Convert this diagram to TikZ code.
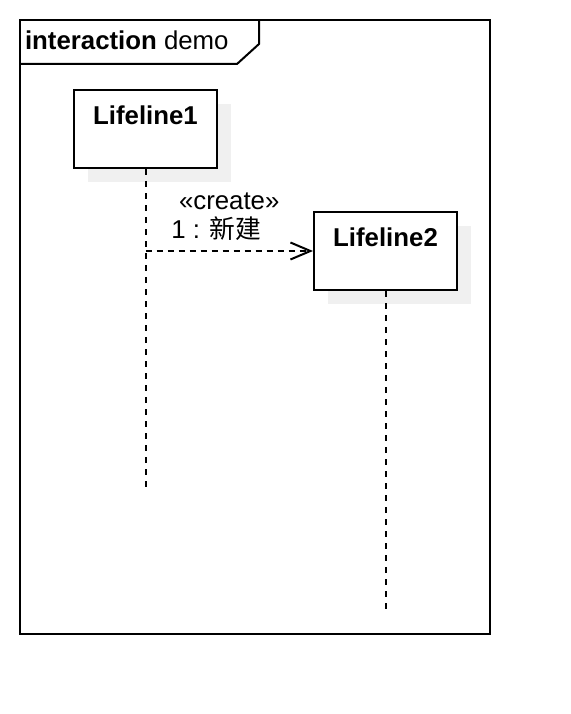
\documentclass[tikz,border=0pt]{standalone}
\usepackage{fontspec}
\setmainfont{Liberation Sans}
\newfontfamily\cjk{Noto Sans CJK SC}
\usepackage{tikz}
\usetikzlibrary{arrows.meta, positioning, shadows, calc}

\begin{document}
\begin{tikzpicture}[
  x=1pt, y=-1pt,
  line width=2pt,
  font=\fontsize{25.8}{30}\selectfont,
  lifebox/.style={rectangle, draw=black, fill=white,
    minimum width=143pt, minimum height=78pt,
    drop shadow={shadow xshift=14pt, shadow yshift=-14pt,
      fill=black!6, opacity=1}},
  boxname/.style={anchor=north, yshift=-14pt, inner sep=2pt,
    font=\fontsize{25.8}{30}\selectfont\bfseries},
  lifeline/.style={dash pattern=on 6pt off 6pt},
  createmsg/.style={dash pattern=on 6pt off 5pt,
    -{Straight Barb[length=20pt, width=17pt]}},
  msglbl/.style={inner sep=0pt, anchor=base}
]
  \useasboundingbox (0,0) rectangle (570,714);

  % frame with its tab
  \draw (20,20) rectangle (490,634);
  \draw (20,64) -- (237,64) -- (259,44) -- (259,20);
  \node[anchor=base west, inner sep=0pt] (title) at (24,50)
    {\textbf{interaction} demo};

  % lifelines
  \node[lifebox, label={[boxname]north:Lifeline1}] (l1) at (145.5,129) {};
  \node[lifebox, below right=42pt and 95pt of l1,
    label={[boxname]north:Lifeline2}] (l2) {};

  \coordinate (l1end) at ($(l1.south)+(0,320)$);
  \coordinate (l2end) at ($(l2.south)+(0,320)$);
  \draw[lifeline] (l1.south) -- (l1end);
  \draw[lifeline] (l2.south) -- (l2end);

  % create message
  \coordinate (msgstart) at (l1.south |- l2.west);
  \draw[createmsg] (msgstart) -- (l2.west)
    node[msglbl, pos=0.5, yshift=42pt] {«create»}
    node[msglbl, pos=0.5, xshift=-13pt, yshift=13pt] {1 : {\cjk 新建}};
\end{tikzpicture}
\end{document}
